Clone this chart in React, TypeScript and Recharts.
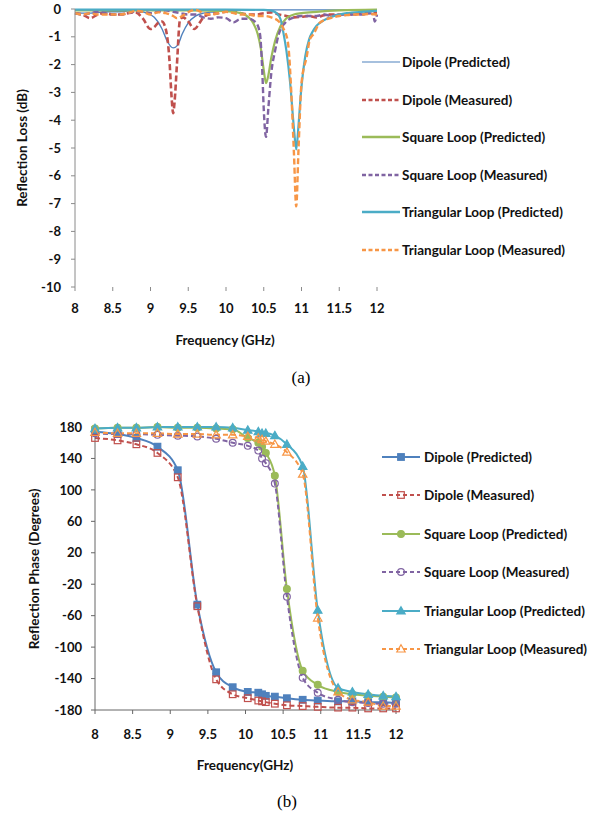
import React from "react";
import { LineChart, Line, XAxis, YAxis } from "recharts";

// shared axis ticks
const freqTicks = [8, 8.5, 9, 9.5, 10, 10.5, 11, 11.5, 12];
const lossTicks = [0, -1, -2, -3, -4, -5, -6, -7, -8, -9, -10];
const phaseTicks = [180, 140, 100, 60, 20, -20, -60, -100, -140, -180];

const seriesNames = [
  "Dipole (Predicted)",
  "Dipole (Measured)",
  "Square Loop (Predicted)",
  "Square Loop (Measured)",
  "Triangular Loop (Predicted)",
  "Triangular Loop (Measured)",
];

// (a) reflection loss, [GHz, dB]
const dipolePredLoss = [
  [8.0, -0.15], [8.2, -0.15], [8.4, -0.1], [8.6, -0.1], [8.8, -0.05], [8.95, -0.15],
  [9.05, -0.3], [9.15, -0.7], [9.22, -1.15], [9.3, -1.4], [9.36, -1.3], [9.42, -0.9],
  [9.5, -0.5], [9.6, -0.25], [9.7, -0.15], [9.85, -0.1], [10.0, -0.05], [10.5, -0.03],
  [11.0, -0.03], [11.5, -0.03], [12.0, -0.03],
];
const dipoleMeasLoss = [
  [8.0, -0.15], [8.1, -0.2], [8.2, -0.33], [8.3, -0.2], [8.4, -0.15], [8.5, -0.2],
  [8.6, -0.2], [8.7, -0.15], [8.8, -0.12], [8.9, -0.35], [9.0, -0.72], [9.05, -0.65],
  [9.1, -0.5], [9.15, -0.45], [9.2, -0.7], [9.25, -1.8], [9.28, -3.2], [9.3, -3.75],
  [9.32, -3.3], [9.35, -2.0], [9.39, -0.4], [9.43, -0.3], [9.5, -0.45], [9.58, -0.72],
  [9.65, -0.5], [9.7, -0.3], [9.8, -0.18], [9.9, -0.15], [10.0, -0.1], [10.1, -0.1],
  [10.2, -0.15], [10.3, -0.2], [10.4, -0.2], [10.5, -0.15], [10.6, -0.12], [10.7, -0.2],
  [10.8, -0.25], [10.9, -0.3], [11.0, -0.28], [11.1, -0.25], [11.2, -0.3], [11.3, -0.22],
  [11.4, -0.2], [11.5, -0.2], [11.6, -0.18], [11.7, -0.2], [11.8, -0.15], [11.9, -0.15],
  [12.0, -0.15],
];
const squarePredLoss = [
  [8.0, -0.05], [9.0, -0.05], [9.5, -0.05], [10.0, -0.08], [10.2, -0.15], [10.3, -0.3],
  [10.36, -0.5], [10.42, -0.9], [10.46, -1.4], [10.5, -2.2], [10.53, -2.67], [10.56, -2.4],
  [10.6, -1.75], [10.65, -1.15], [10.72, -0.63], [10.8, -0.33], [10.9, -0.2], [11.0, -0.15],
  [11.2, -0.1], [11.5, -0.05], [12.0, -0.02],
];
const squareMeasLoss = [
  [8.0, -0.15], [8.1, -0.2], [8.2, -0.15], [8.3, -0.1], [8.4, -0.15], [8.5, -0.2],
  [8.6, -0.2], [8.7, -0.15], [8.8, -0.1], [8.9, -0.1], [9.0, -0.15], [9.1, -0.1],
  [9.2, -0.05], [9.3, -0.1], [9.4, -0.15], [9.5, -0.2], [9.6, -0.2], [9.7, -0.3],
  [9.8, -0.35], [9.9, -0.3], [10.0, -0.33], [10.1, -0.48], [10.2, -0.35], [10.3, -0.35],
  [10.4, -0.5], [10.45, -0.9], [10.48, -2.2], [10.5, -3.6], [10.53, -4.6], [10.56, -3.6],
  [10.6, -2.3], [10.65, -1.5], [10.7, -0.9], [10.8, -0.45], [10.9, -0.3], [11.0, -0.25],
  [11.1, -0.25], [11.2, -0.25], [11.3, -0.2], [11.4, -0.25], [11.5, -0.2], [11.6, -0.2],
  [11.7, -0.2], [11.8, -0.2], [11.9, -0.15], [11.95, -0.2], [11.97, -0.45], [12.0, -0.2],
];
const triPredLoss = [
  [8.0, -0.02], [9.0, -0.02], [10.0, -0.02], [10.5, -0.03], [10.6, -0.06], [10.67, -0.15],
  [10.72, -0.35], [10.76, -0.85], [10.8, -1.5], [10.85, -2.67], [10.9, -4.3], [10.93, -5.05],
  [10.96, -4.2], [10.99, -3.1], [11.05, -1.7], [11.1, -1.1], [11.15, -0.8], [11.2, -0.6],
  [11.3, -0.4], [11.4, -0.28], [11.5, -0.2], [11.6, -0.15], [11.8, -0.1], [12.0, -0.07],
];
const triMeasLoss = [
  [8.0, -0.15], [8.1, -0.2], [8.2, -0.15], [8.3, -0.2], [8.4, -0.2], [8.5, -0.2],
  [8.6, -0.2], [8.7, -0.15], [8.8, -0.07], [8.9, -0.1], [9.0, -0.2], [9.1, -0.12],
  [9.2, -0.15], [9.3, -0.25], [9.35, -0.33], [9.45, -0.2], [9.55, -0.05], [9.6, -0.03],
  [9.7, -0.15], [9.8, -0.2], [9.9, -0.15], [10.0, -0.1], [10.1, -0.15], [10.2, -0.2],
  [10.3, -0.2], [10.4, -0.25], [10.5, -0.25], [10.6, -0.3], [10.7, -0.45], [10.76, -0.7],
  [10.82, -1.2], [10.87, -3.3], [10.9, -5.2], [10.93, -7.1], [10.96, -5.07], [11.0, -2.67],
  [11.07, -1.7], [11.11, -1.1], [11.16, -0.9], [11.24, -0.5], [11.32, -0.38], [11.42, -0.3],
  [11.5, -0.25], [11.6, -0.22], [11.7, -0.2], [11.8, -0.2], [11.9, -0.18], [12.0, -0.2],
];

// (b) reflection phase, degrees at each sample frequency
const phaseFreq = [
  8.0, 8.3, 8.55, 8.83, 9.1, 9.36, 9.61, 9.83, 10.03, 10.17, 10.22,
  10.27, 10.39, 10.55, 10.76, 10.96, 11.23, 11.42, 11.63, 11.83, 12.0,
];
const dipolePredPhase = [
  174, 171, 166, 155, 125, -46, -132, -151, -157, -158, -160,
  -162, -163, -165, -167, -168, -169, -169, -170, -170, -171,
];
const dipoleMeasPhase = [
  166, 163, 158, 147, 116, -48, -141, -160, -165, -168, -169,
  -170, -172, -174, -175, -176, -177, -177, -178, -178, -178,
];
const squarePredPhase = [
  178, 179, 179, 180, 179, 179, 178, 177, 166, 160, 155,
  147, 118, -26, -130, -148, -157, -160, -162, -163, -164,
];
const squareMeasPhase = [
  172, 171, 171, 170, 169, 168, 165, 160, 156, 150, 140,
  134, 108, -36, -139, -158, -167, -170, -171, -172, -172,
];
const triPredPhase = [
  178, 179, 179, 180, 180, 180, 180, 179, 176, 174, 172,
  172, 169, 158, 130, -53, -152, -157, -160, -162, -163,
];
const triMeasPhase = [
  173, 172, 172, 172, 171, 171, 170, 170, 168, 166, 164,
  162, 158, 148, 120, -63, -157, -167, -170, -175, -175,
];

const colors = ["#4F81BD", "#C0504D", "#9BBB59", "#8064A2", "#4BACC6", "#F79646"];
const font = "Lato, 'Open Sans', sans-serif";
const tickStyle = { fontSize: 13, fill: "#111", fontWeight: 700, fontFamily: font };
const axisGrey = "#8a8a8a";

const toPoints = (pairs: number[][]) => pairs.map(([f, v]) => ({ f, v }));

const lossSeries = [
  { data: dipolePredLoss, width: 1.4, dash: undefined },
  { data: dipoleMeasLoss, width: 2.6, dash: "6 3" },
  { data: squarePredLoss, width: 2.2, dash: undefined },
  { data: squareMeasLoss, width: 2.4, dash: "6 3" },
  { data: triPredLoss, width: 2.2, dash: undefined },
  { data: triMeasLoss, width: 2.4, dash: "6 3" },
];

const phaseKeys = ["dp", "dm", "sp", "sm", "tp", "tm"];
const phaseValues = [
  dipolePredPhase, dipoleMeasPhase, squarePredPhase,
  squareMeasPhase, triPredPhase, triMeasPhase,
];
const phaseRows = phaseFreq.map((f, i) => {
  const row: Record<string, number> = { f };
  phaseKeys.forEach((k, s) => (row[k] = phaseValues[s][i]));
  return row;
});

const markerShapes = ["square", "square", "circle", "circle", "triangle", "triangle"];

function Marker({ cx, cy, shape, color, filled }: any) {
  if (cx == null || cy == null) return null;
  const fill = filled ? color : "none";
  if (shape === "square")
    return <rect x={cx - 3.3} y={cy - 3.3} width={6.6} height={6.6} fill={fill} stroke={color} strokeWidth={1.2} />;
  if (shape === "circle")
    return <circle cx={cx} cy={cy} r={3.4} fill={fill} stroke={color} strokeWidth={1.2} />;
  return (
    <polygon
      points={`${cx},${cy - 4.3} ${cx + 4.2},${cy + 3} ${cx - 4.2},${cy + 3}`}
      fill={fill}
      stroke={color}
      strokeWidth={1.2}
    />
  );
}

const legendText: React.CSSProperties = { fontFamily: font, fontSize: 13.5, fontWeight: 700, color: "#111" };

function LegendA() {
  return (
    <div style={{ position: "absolute", left: 360, top: 50 }}>
      {seriesNames.map((name, i) => {
        const s = lossSeries[i];
        return (
          <div key={name} style={{ position: "absolute", top: i * 37.6, left: 0, display: "flex", alignItems: "center", whiteSpace: "nowrap" }}>
            <svg width={42} height={24}>
              <line x1={2} x2={40} y1={12} y2={12} stroke={colors[i]} strokeWidth={i === 0 ? 1.2 : 2.4} strokeDasharray={s.dash ? "4 2.5" : undefined} />
            </svg>
            <span style={legendText}>{name}</span>
          </div>
        );
      })}
    </div>
  );
}

function LegendB() {
  return (
    <div style={{ position: "absolute", left: 380, top: 445 }}>
      {seriesNames.map((name, i) => (
        <div key={name} style={{ position: "absolute", top: i * 38.4, left: 0, display: "flex", alignItems: "center", whiteSpace: "nowrap" }}>
          <svg width={44} height={24}>
            <line x1={2} x2={40} y1={12} y2={12} stroke={colors[i]} strokeWidth={2} strokeDasharray={i % 2 ? "4 3" : undefined} />
            <Marker cx={21} cy={12} shape={markerShapes[i]} color={colors[i]} filled={i % 2 === 0} />
          </svg>
          <span style={legendText}>{name}</span>
        </div>
      ))}
    </div>
  );
}

const textAbs = (left: number, top: number, extra: React.CSSProperties = {}): React.CSSProperties => ({
  position: "absolute",
  left,
  top,
  fontFamily: font,
  fontSize: 13.5,
  fontWeight: 700,
  color: "#111",
  whiteSpace: "nowrap",
  ...extra,
});

export default function App() {
  return (
    <div style={{ position: "absolute", left: 0, top: 0, width: 608, height: 816, background: "#fff", overflow: "hidden" }}>
      {/* (a) reflection loss */}
      <LineChart
        width={608}
        height={330}
        margin={{ top: 9, right: 231, bottom: 13, left: 0 }}
        style={{ position: "absolute", left: 0, top: 0 }}
      >
        <XAxis
          dataKey="f"
          type="number"
          domain={[8, 12]}
          ticks={freqTicks}
          allowDuplicatedCategory={false}
          axisLine={false}
          tickLine={{ stroke: axisGrey }}
          tickSize={4}
          tickMargin={13}
          height={30}
          tick={tickStyle}
        />
        <YAxis
          type="number"
          domain={[-10, 0]}
          ticks={lossTicks}
          width={75}
          axisLine={{ stroke: axisGrey }}
          tickLine={{ stroke: axisGrey }}
          tickSize={4}
          tickMargin={10}
          tick={tickStyle}
        />
        {lossSeries.map((s, i) => (
          <Line
            key={seriesNames[i]}
            data={toPoints(s.data)}
            dataKey="v"
            type="monotone"
            stroke={colors[i]}
            strokeWidth={s.width}
            strokeDasharray={s.dash}
            dot={false}
            isAnimationActive={false}
          />
        ))}
      </LineChart>
      <LegendA />
      <div style={textAbs(22, 148, { transform: "translate(-50%, -50%) rotate(-90deg)" })}>Reflection Loss (dB)</div>
      <div style={textAbs(225, 340, { transform: "translate(-50%, -50%)" })}>Frequency (GHz)</div>
      <div style={{ position: "absolute", left: 301, top: 378, transform: "translate(-50%, -50%)", fontFamily: "'Liberation Serif', serif", fontSize: 17 }}>(a)</div>

      {/* (b) reflection phase */}
      <LineChart
        width={608}
        height={370}
        data={phaseRows}
        margin={{ top: 17, right: 212, bottom: 40, left: 0 }}
        style={{ position: "absolute", left: 0, top: 410 }}
      >
        <XAxis
          dataKey="f"
          type="number"
          domain={[8, 12]}
          ticks={freqTicks}
          axisLine={{ stroke: "#666" }}
          tickLine={{ stroke: "#666" }}
          tickSize={4}
          tickMargin={16}
          height={30}
          tick={tickStyle}
        />
        <YAxis
          type="number"
          domain={[-180, 180]}
          ticks={phaseTicks}
          width={95}
          axisLine={{ stroke: "#666" }}
          tickLine={{ stroke: "#666" }}
          tickSize={4}
          tickMargin={9}
          tick={tickStyle}
        />
        {phaseKeys.map((k, i) => (
          <Line
            key={k}
            dataKey={k}
            type="monotone"
            stroke={colors[i]}
            strokeWidth={2}
            strokeDasharray={i % 2 ? "5 3" : undefined}
            dot={(p: any) => (
              <Marker key={`${k}-${p.index}`} cx={p.cx} cy={p.cy} shape={markerShapes[i]} color={colors[i]} filled={i % 2 === 0} />
            )}
            activeDot={false}
            isAnimationActive={false}
          />
        ))}
      </LineChart>
      <LegendB />
      <div style={textAbs(34, 569, { transform: "translate(-50%, -50%) rotate(-90deg)" })}>Reflection Phase (Degrees)</div>
      <div style={textAbs(245, 765, { transform: "translate(-50%, -50%)" })}>Frequency(GHz)</div>
      <div style={{ position: "absolute", left: 287, top: 802, transform: "translate(-50%, -50%)", fontFamily: "'Liberation Serif', serif", fontSize: 17 }}>(b)</div>
    </div>
  );
}
